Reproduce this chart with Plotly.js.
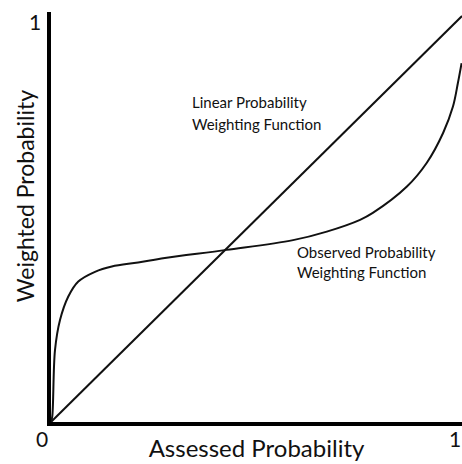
<!DOCTYPE html>
<html>
<head>
<meta charset="utf-8">
<script src="https://cdn.plot.ly/plotly-3.0.1.min.js"></script>
<style>html,body{margin:0;padding:0;background:#fff;}#chart{width:462px;height:464px;}</style>
</head>
<body>
<div id="chart"></div>
<script>
// Linear (identity) weighting function
const linearX = [0, 1];
const linearY = [0, 1];

// Observed probability weighting function
const observedX = [0, 0.003, 0.0097, 0.0219, 0.0421, 0.0664, 0.107, 0.148, 0.212, 0.277, 0.427, 0.589, 0.671, 0.752, 0.783, 0.866, 0.914, 0.954, 0.978, 0.990, 0.999];
const observedY = [0, 0.013, 0.177, 0.251, 0.309, 0.346, 0.370, 0.383, 0.393, 0.404, 0.424, 0.448, 0.469, 0.498, 0.515, 0.580, 0.638, 0.712, 0.777, 0.835, 0.884];

const tickLabels = ["0", "1"];
const xTitle = "Assessed Probability";
const yTitle = "Weighted Probability";
const linearLabel = ["Linear Probability", "Weighting Function"];
const observedLabel = ["Observed Probability", "Weighting Function"];

const FONT = "Lato, 'Open Sans', sans-serif";
const INK = "#111";

const traces = [
  {x: linearX, y: linearY, mode: "lines", line: {color: INK, width: 2}, hoverinfo: "skip", showlegend: false, cliponaxis: false},
  {x: observedX, y: observedY, mode: "lines", line: {color: INK, width: 2, shape: "spline", smoothing: 1}, hoverinfo: "skip", showlegend: false}
];

function ann(text, x, y, size, xanchor, ref, angle) {
  return {text: text, x: x, y: y, xref: ref || "x", yref: ref || "y", showarrow: false,
          xanchor: xanchor || "left", yanchor: "middle", textangle: angle || 0,
          font: {family: FONT, size: size, color: INK}};
}

const annotations = [
  ann(linearLabel[0], 0.338, 0.788, 15),
  ann(linearLabel[1], 0.338, 0.733, 15),
  ann(observedLabel[0], 0.594, 0.419, 15),
  ann(observedLabel[1], 0.594, 0.369, 15),
  ann(tickLabels[0], -0.023, -0.041, 21, "center", "paper"),
  ann(tickLabels[1], -0.040, 0.976, 21, "center", "paper"),
  ann(tickLabels[1], 0.982, -0.041, 21, "center", "paper"),
  ann(yTitle, -0.063, 0.551, 23, "center", "paper", -90)
];

const layout = {
  width: 462, height: 464,
  margin: {l: 51, r: 0, t: 12, b: 42, pad: 0},
  paper_bgcolor: "#fff", plot_bgcolor: "#fff",
  showlegend: false,
  font: {family: FONT, color: INK},
  xaxis: {range: [0, 1], showgrid: false, zeroline: false, showticklabels: false, ticks: "",
          showline: true, linecolor: "#000", linewidth: 4, fixedrange: true,
          title: {text: xTitle, font: {family: FONT, size: 24, color: INK}, standoff: 16}},
  yaxis: {range: [0, 1.01], showgrid: false, zeroline: false, showticklabels: false, ticks: "",
          showline: true, linecolor: "#000", linewidth: 4, fixedrange: true},
  annotations: annotations
};

Plotly.newPlot("chart", traces, layout, {displayModeBar: false, staticPlot: true});
</script>
</body>
</html>
